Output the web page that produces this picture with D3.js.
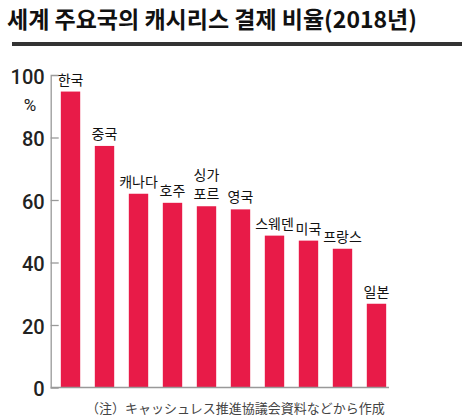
<!DOCTYPE html>
<html><head><meta charset="utf-8">
<script src="https://cdn.jsdelivr.net/npm/d3@7"></script>
<style>body{margin:0;background:#fff}</style>
</head><body>
<svg id="c" width="470" height="419"></svg>
<script>
const countries = ["한국","중국","캐나다","호주","싱가포르","영국","스웨덴","미국","프랑스","일본"];
const labelLines = [["한국"],["중국"],["캐나다"],["호주"],["싱가","포르"],["영국"],["스웨덴"],["미국"],["프랑스"],["일본"]];
const values = [94.7, 77.3, 62.0, 59.1, 58.0, 57.0, 48.6, 47.0, 44.4, 26.8];
const yTicks = [0, 20, 40, 60, 80, 100];
const title = "세계 주요국의 캐시리스 결제 비율(2018년)";
const unit = "%";
const note = "（注）キャッシュレス推進協議会資料などから作成";

const svg = d3.select("#c");
const kr = "'Noto Sans CJK KR','Noto Sans',sans-serif";

svg.append("text").attr("x", 7).attr("y", 28)
  .attr("font-family", kr).attr("font-weight", 700).attr("font-size", 23)
  .attr("fill", "#111").text(title);
svg.append("rect").attr("x", 12).attr("y", 42).attr("width", 450).attr("height", 4).attr("fill", "#333");

const x = d3.scaleBand().domain(countries).range([53, 394]).paddingInner(0.43).paddingOuter(0.23);
const y = d3.scaleLinear().domain([0, 100]).range([387.5, 75]);

// bars
svg.selectAll("rect.bar").data(countries).enter().append("rect")
  .attr("class", "bar")
  .attr("x", d => x(d)).attr("width", x.bandwidth())
  .attr("y", (d, i) => y(values[i])).attr("height", (d, i) => y(0) - y(values[i]))
  .attr("fill", "#e81b48");

// y axis
const yAxis = d3.axisLeft(y).tickValues(yTicks).tickSize(-8).tickPadding(15).tickFormat(d3.format("d"));
const gy = svg.append("g").attr("transform", "translate(50.7,0)").call(yAxis);
gy.select(".domain").attr("stroke", "#999").attr("stroke-width", 1.3);
gy.selectAll(".tick line").attr("stroke", "#999").attr("stroke-width", 1.3);
gy.selectAll(".tick text").attr("font-family", "Roboto, sans-serif").attr("font-size", 20)
  .attr("font-weight", 500).attr("fill", "#222").attr("x", -6).attr("dy", "0.4em");
gy.selectAll(".tick").filter(d => d === 0).select("line").remove();
gy.selectAll(".tick").filter(d => d === 100).select("line").remove();

svg.append("text").attr("x", 30).attr("y", 111).attr("text-anchor", "middle")
  .attr("font-family", "Roboto, sans-serif").attr("font-size", 17).attr("fill", "#222").text(unit);

// x baseline
svg.append("line").attr("x1", 50.7).attr("x2", 389).attr("y1", y(0)).attr("y2", y(0))
  .attr("stroke", "#999").attr("stroke-width", 1.5);

// category labels
countries.forEach((c, i) => {
  const lines = labelLines[i];
  const t = svg.append("text").attr("text-anchor", "middle")
    .attr("font-family", kr).attr("font-size", 14).attr("fill", "#111");
  lines.forEach((ln, j) => {
    t.append("tspan").attr("x", x(c) + x.bandwidth() / 2)
      .attr("y", y(values[i]) - 7 - (lines.length - 1 - j) * 19).text(ln);
  });
});

svg.append("text").attr("x", 86).attr("y", 413)
  .attr("font-family", "'Noto Sans CJK JP',sans-serif").attr("font-size", 13).attr("fill", "#444").text(note);
</script>
</body></html>
